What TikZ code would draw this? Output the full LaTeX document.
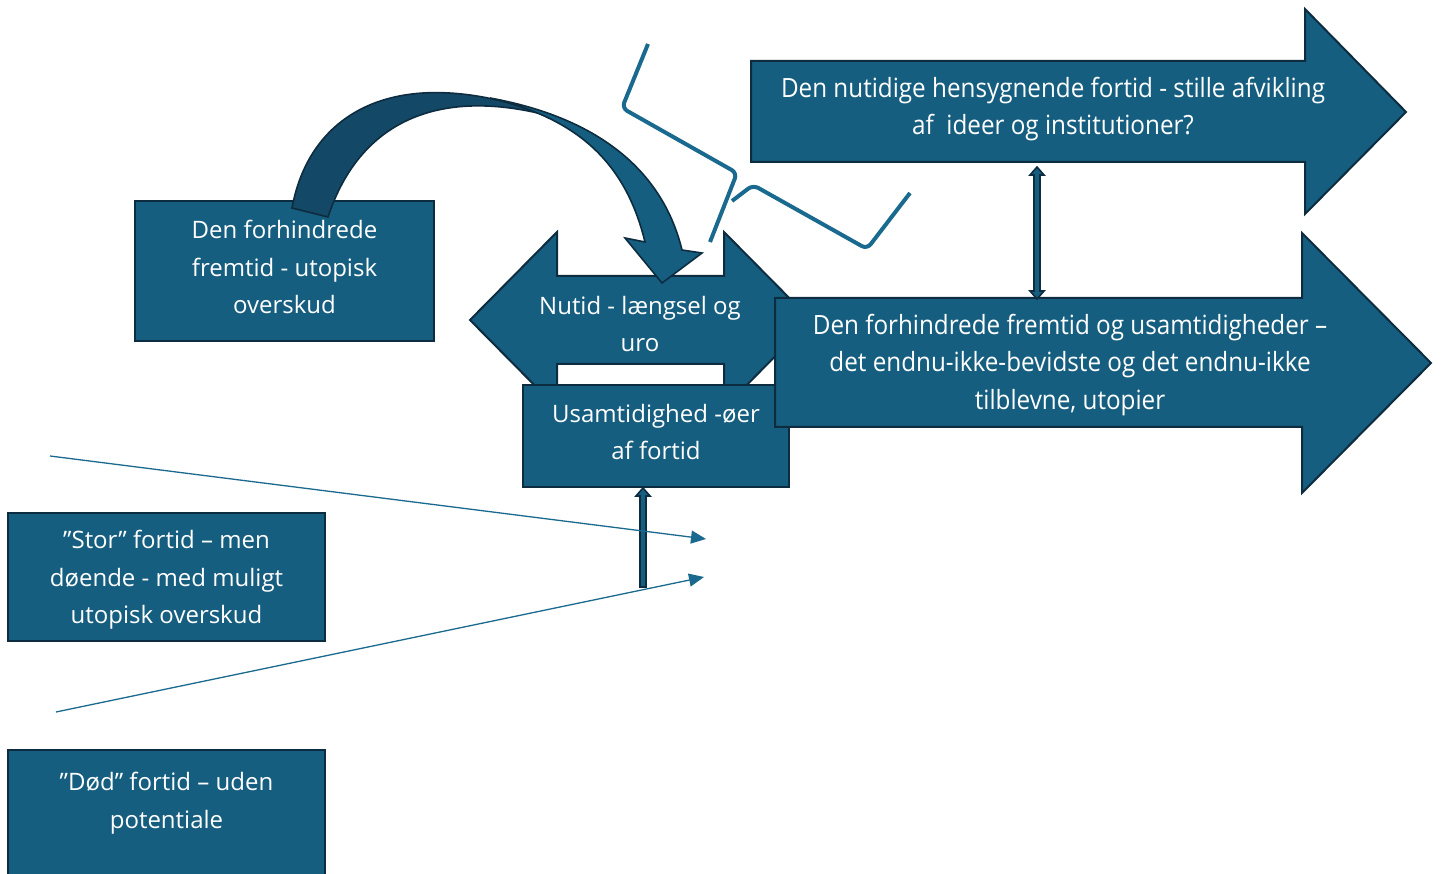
\documentclass[tikz,border=0pt]{standalone}
\usepackage{fontspec}
\setmainfont{Open Sans}
\newfontfamily\narrowfont[FakeStretch=0.915]{Open Sans}
\usetikzlibrary{arrows.meta,calc}
\definecolor{fillb}{HTML}{165E80}
\definecolor{edgeb}{HTML}{0D2C3F}
\definecolor{darkb}{HTML}{134966}
\definecolor{lineb}{HTML}{1A6A8F}
\begin{document}
\begin{tikzpicture}[x=1pt,y=-1pt,
  boxshape/.style={draw=edgeb,fill=fillb,line width=2pt},
  txt/.style={text=white,align=center,inner sep=0pt,font=\fontsize{24}{37.5}\selectfont},
  ntxt/.style={text=white,align=center,inner sep=0pt,font=\narrowfont\fontsize{26.5}{37.5}\selectfont},
  thinarrow/.style={draw=lineb,line width=1.3pt,-{Triangle[length=15pt,width=13pt]}},
  zig/.style={draw=lineb,line width=4pt,rounded corners=6pt},
  slimarrow/.style={fill=fillb,draw=edgeb,line width=1.6pt},
  ribbon/.style={draw=edgeb,line width=1.6pt,line join=miter}]
\useasboundingbox (0,0) rectangle (1441,874);

% box: Den forhindrede fremtid
\draw[boxshape] (135,201) rectangle (434,341);
\node[txt] (forh) at (284.5,267) {Den forhindrede\\fremtid - utopisk\\overskud};

% Nutid double arrow
\draw[boxshape] (470,320) -- (557,232) -- (557,276) -- (724,276) -- (724,232) -- (811,320)
  -- (724,408) -- (724,364) -- (557,364) -- (557,408) -- cycle;
\node[txt] (nutid) at (640,324) {Nutid - længsel og\\uro};

% curved arrow: dark back part and light front part
\draw[ribbon,fill=darkb] (292,208) .. controls (310,110) and (400,60) .. (550,116)
  .. controls (440,87) and (360,120) .. (328,217) -- cycle;
\draw[ribbon,fill=fillb] (490,98) .. controls (610,120) and (665,180) .. (682,250)
  -- (702,253) -- (662,283) -- (625,238) -- (645,242)
  .. controls (625,160) and (575,118) .. (490,98) -- cycle;

% zigzag line
\draw[zig] (648,44) -- (622,108) -- (737,173) -- (710,242);
\draw[zig] (732,201) -- (753,185) -- (867,249) -- (910,193);

% Usamtidighed box
\draw[boxshape] (523,385) rectangle (789,487);
\node[txt] (usam) at (656,432) {Usamtidighed -øer\\af fortid};

% top right arrow
\draw[boxshape] (751,61) -- (1305,61) -- (1305,9) -- (1406,112) -- (1305,214) -- (1305,162) -- (751,162) -- cycle;
\node[ntxt] (nutfort) at (1053,109) {Den nutidige hensygnende fortid - stille afvikling\\af\ \ ideer og institutioner?};

% lower right arrow
\draw[boxshape] (775,298) -- (1302,298) -- (1302,233) -- (1431,363) -- (1302,493) -- (1302,427) -- (775,427) -- cycle;
\node[ntxt] (fremt) at (1070,365) {Den forhindrede fremtid og usamtidigheder –\\det endnu-ikke-bevidste og det endnu-ikke\\tilblevne, utopier};

% vertical double arrow between right arrows
\coordinate (da1) at (1037,167);
\coordinate (da2) at (1037,299);
\draw[slimarrow] (da1) -- ++(7,8) -- ++(-4,0) |- ($(da2)+(3,-8)$) -- ++(4,0) -- (da2) -- ++(-7,-8) -- ++(4,0) |- ($(da1)+(-3,8)$) -- ++(-4,0) -- cycle;

% up arrow into Usamtidighed
\coordinate (ua1) at (643,488);
\coordinate (ua2) at (643,587);
\draw[slimarrow] (ua1) -- ++(7,8) -- ++(-4,0) -- ($(ua2)+(3,0)$) -- ++(-6,0) -- ($(ua1)+(-3,8)$) -- ++(-4,0) -- cycle;

% Stor box
\draw[boxshape] (8,513) rectangle (325,641);
\node[txt] (stor) at (166.5,580) {”Stor” fortid – men\\døende - med muligt\\utopisk overskud};

% Død box
\draw[boxshape] (8,750) rectangle (325,890);
\node[txt] (dod) at (166.5,803) {”Død” fortid – uden\\potentiale};

% thin arrows
\coordinate (t1s) at (50,456);
\coordinate (t1e) at (706,539);
\coordinate (t2s) at (56,712);
\coordinate (t2e) at (704,577);
\draw[thinarrow] (t1s) -- (t1e);
\draw[thinarrow] (t2s) -- (t2e);
\end{tikzpicture}
\end{document}
